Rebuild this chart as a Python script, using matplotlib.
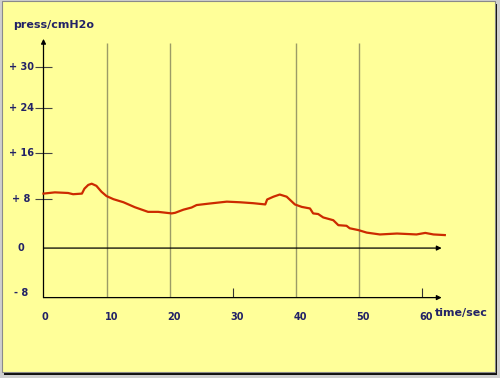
import matplotlib
matplotlib.use("Agg")
import matplotlib.pyplot as plt
from matplotlib.patches import Rectangle

time_s = [0, 1.8, 3.9, 4.7, 6.1, 6.5, 7.1, 7.65, 8.4, 9.2, 10.0, 11.1, 12.7, 14.5,
          16.6, 18.2, 20.35, 20.9, 22.2, 23.5, 24.3, 26.4, 29.1, 31.2, 33.3, 35.2,
          35.5, 36.5, 37.5, 38.6, 39.9, 41.0, 42.3, 42.8, 43.6, 44.4, 46.0, 46.8,
          48.1, 48.6, 50.0, 51.3, 53.4, 56.1, 58.2, 59.2, 60.6, 61.9, 63.7]
press = [8.8, 9.0, 8.9, 8.7, 8.8, 9.6, 10.2, 10.4, 10.05, 9.1, 8.4, 7.9, 7.4, 6.6,
         5.85, 5.85, 5.6, 5.7, 6.2, 6.55, 6.95, 7.2, 7.5, 7.4, 7.25, 7.05,
         7.85, 8.3, 8.65, 8.3, 7.05, 6.65, 6.4, 5.6, 5.5, 4.95, 4.5, 3.7,
         3.6, 3.2, 2.9, 2.5, 2.2, 2.35, 2.25, 2.2, 2.45, 2.2, 2.1]

xtick_vals = [0, 10, 20, 30, 40, 50, 60]
xtick_labels = ["0", "10", "20", "30", "40", "50", "60"]
ytick_pos = [29.2, 22.6, 15.3, 8.0, 0, -7.3]
ytick_labels = ["+ 30", "+ 24", "+ 16", "+ 8", "0", "- 8"]
grid_x = [10, 20, 40, 50]

W, H = 500, 378
TXT = "#222266"
LINE = "#cc2a00"
GRIDC = "#9c9c66"


def fx(x):
    return x / W


def fy(y):
    return 1 - y / H


fig = plt.figure(figsize=(5, 3.78), dpi=100, facecolor="#cfcfcf")

# panel with shadow, kept behind the axes
fig.add_artist(Rectangle((fx(4), fy(375)), (497 - 4) / W, (375 - 4) / H,
                         transform=fig.transFigure, facecolor="#111111",
                         edgecolor="none", zorder=-10))
fig.add_artist(Rectangle((fx(2), fy(372)), (495 - 2) / W, (372 - 1) / H,
                         transform=fig.transFigure, facecolor="#ffff99",
                         edgecolor="#8a8a8a", lw=0.8, zorder=-9))

ax = fig.add_axes([fx(43.5), fy(297.6), 403.2 / W, (297.6 - 40.7) / H])
ax.set_xlim(0, 64)
ax.set_ylim(-8, 33.5)
ax.axis("off")
ax.patch.set_alpha(0)

# grid lines and ticks
ax.vlines(grid_x, -8, 33.2, color=GRIDC, lw=1.0)
ax.vlines([30, 60], -8, -6.5, color="#333333", lw=0.8)
ax.hlines(ytick_pos[:4], -1.35, 1.4, color="#444444", lw=0.8, clip_on=False)

arrow = dict(arrowstyle="-|>", color="black", lw=0.9, mutation_scale=7,
             shrinkA=0, shrinkB=0)
ax.annotate("", xy=(63.2, -8), xytext=(0, -8), arrowprops=arrow, annotation_clip=False)
ax.annotate("", xy=(63.2, 0), xytext=(0, 0), arrowprops=arrow, annotation_clip=False)
ax.annotate("", xy=(0, 33.8), xytext=(0, -8), arrowprops=arrow, annotation_clip=False)

ax.plot(time_s, press, color=LINE, lw=1.6, clip_on=False, zorder=5)

for v, lab in zip(ytick_pos, ytick_labels):
    ax.text(-3.55, v, lab, ha="center", va="center", fontsize=7, fontweight="bold",
            color=TXT, clip_on=False)
for t, lab in zip(xtick_vals, xtick_labels):
    ax.text(t - 0.3, -11.2, lab, ha="left", va="center", fontsize=7, fontweight="bold",
            color=TXT, clip_on=False)

fig.text(fx(13), fy(25), "press/cmH2o", ha="left", va="center", fontsize=8,
         fontweight="bold", color=TXT)
fig.text(fx(435), fy(312.7), "time/sec", ha="left", va="center", fontsize=8,
         fontweight="bold", color=TXT)

fig.savefig("out.png", dpi=100, facecolor=fig.get_facecolor())
